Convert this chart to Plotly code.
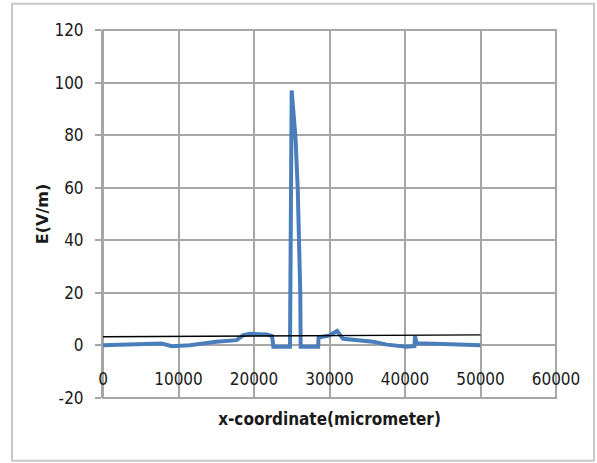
import plotly.graph_objects as go

# Blue series: E field along x
x_um = [0, 3000, 7000, 7800, 9100, 11500, 15000, 17700, 18600, 19500, 21700, 22400,
        22560, 24500, 24770, 24990, 25500, 25800, 26000, 26130, 26180, 28500, 28550,
        30000, 31000, 31800, 35800, 37600, 40200, 41250, 41320, 41550, 45000, 50000]
e_vm = [0.1, 0.3, 0.6, 0.7, -0.3, 0.1, 1.4, 2.0, 3.9, 4.4, 4.2, 3.6,
        -0.5, -0.5, -0.5, 97, 79, 59, 39, 20, -0.5, -0.5, 3.0,
        3.8, 5.5, 2.5, 1.4, 0.3, -0.5, -0.3, 3.5, 0.8, 0.5, 0.1]

# Thin black reference line
ref_x = [0, 50000]
ref_y = [3.3, 4.0]

x_ticks = [0, 10000, 20000, 30000, 40000, 50000, 60000]
y_ticks = [-20, 0, 20, 40, 60, 80, 100, 120]
y_min, y_max = -20, 120

grid = "#a6a6a6"
narrow = "Liberation Sans Narrow, DejaVu Sans Condensed, Arial Narrow, sans-serif"

fig = go.Figure()
fig.add_trace(go.Scatter(x=x_um, y=e_vm, mode="lines",
                         line=dict(color="#4a7ebb", width=4), showlegend=False))
fig.add_trace(go.Scatter(x=ref_x, y=ref_y, mode="lines",
                         line=dict(color="#000000", width=1.3), showlegend=False))

fig.update_layout(
    width=597, height=463,
    margin=dict(l=103, r=41, t=30, b=65),
    paper_bgcolor="white", plot_bgcolor="white",
    font=dict(family=narrow, size=17, color="#1a1a1a"),
    xaxis=dict(
        range=[0, 60000], tickvals=x_ticks, ticktext=[str(v) for v in x_ticks],
        showgrid=True, gridcolor=grid, gridwidth=2,
        zeroline=False, showline=False,
        anchor="free", position=(0 - y_min) / (y_max - y_min),
        ticks="", ticklabelstandoff=22,
        title=dict(text="<b>x-coordinate(micrometer)</b>", standoff=24,
                   font=dict(family=narrow, size=17, color="#1a1a1a")),
        fixedrange=True,
    ),
    yaxis=dict(
        range=[y_min, y_max], tickvals=y_ticks, ticktext=[str(v) for v in y_ticks],
        showgrid=True, gridcolor=grid, gridwidth=2,
        zeroline=False, showline=True, linecolor=grid, linewidth=2,
        ticks="outside", ticklen=6, tickcolor=grid, tickwidth=2,
        ticklabelstandoff=8,
        title=dict(text="<b>E(V/m)</b>", standoff=2,
                   font=dict(family="DejaVu Sans, sans-serif", size=16, color="#1a1a1a")),
    ),
)

# frame of the plot area (gridlines at range ends)
fig.add_shape(type="rect", xref="paper", yref="paper", x0=0, x1=1, y0=0, y1=1,
              line=dict(color=grid, width=2), layer="below")
# outer chart border
fig.add_shape(type="rect", xref="paper", yref="paper",
              x0=(12 - 103) / 453, x1=(594 - 103) / 453,
              y0=(398.3 - 461) / 368, y1=(398.3 - 4) / 368,
              line=dict(color="#c8c8c8", width=2))

fig.write_html("out.html")
